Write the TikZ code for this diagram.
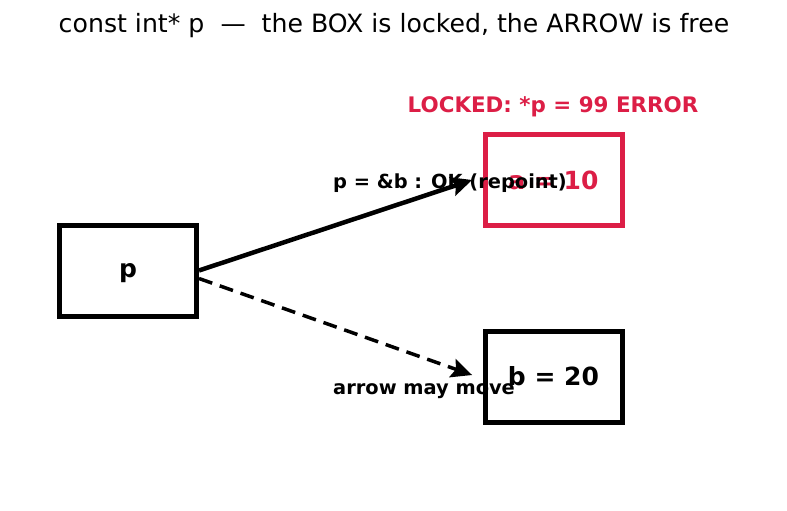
\documentclass[tikz,border=0pt]{standalone}
\usepackage{fontspec}
\setmainfont{DejaVu Sans}
\usetikzlibrary{arrows.meta}
\definecolor{lockred}{RGB}{220,30,70}
\begin{document}
\begin{tikzpicture}[x=1pt,y=-1pt,
  boxstyle/.style={draw,line width=5pt,minimum width=137pt,minimum height=91pt,inner sep=0pt,font=\fontsize{25}{25}\selectfont\bfseries},
  lbl/.style={font=\fontsize{19.4}{19.4}\selectfont\bfseries,inner sep=0pt,anchor=west},
  arr/.style={line width=4.5pt,-{Stealth[length=21pt,width=20pt,inset=4pt,line width=0pt]}}]
\useasboundingbox (0,0) rectangle (787,511);
\node[font=\fontsize{25.2}{25.2}\selectfont,inner sep=0pt] (title) at (394,26) {const int* p \ — \ the BOX is locked, the ARROW is free};
\node[boxstyle,text depth=0pt] (p) at (128,270.5) {p};
\node[boxstyle,draw=lockred,text=lockred] (a) at (553.5,180) {a = 10};
\node[boxstyle] (b) at (553.5,376.5) {b = 20};
\node[font=\fontsize{21.4}{21.4}\selectfont\bfseries,text=lockred,inner sep=0pt] (locked) at (553,107) {LOCKED: *p = 99 ERROR};
\coordinate (t1) at (472,180);
\coordinate (t2) at (472,375);
\draw[arr] (p.east) -- (t1);
\draw[arr,line width=3.5pt,dash pattern=on 14pt off 8pt] ([yshift=-8pt]p.east) -- (t2);
\node[lbl] (l1) at (333,183) {p = \&b : OK (repoint)};
\node[lbl] (l2) at (333,391) {arrow may move};
\end{tikzpicture}
\end{document}
